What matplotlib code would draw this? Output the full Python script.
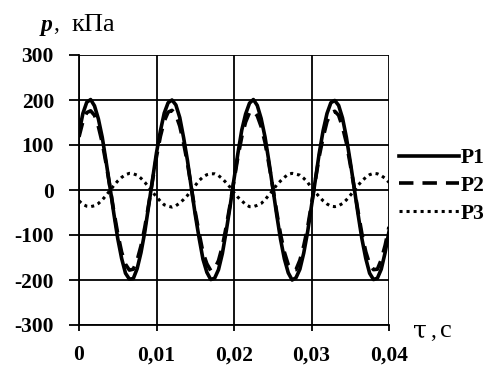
import numpy as np
import matplotlib
matplotlib.use("Agg")
import matplotlib.pyplot as plt

# time samples (s), step 0.0005 from 0 to 0.04
t = [round(i * 0.0005, 4) for i in range(81)]

p1 = [127, 170, 195, 201, 187, 158, 117, 63, 6, -53, -108, -152, -185, -198, -197, -175, -139, -92, -34, 25, 83,
      131, 171, 194, 200, 189, 161, 116, 65, 4, -55, -107, -154, -183, -199, -196, -177, -141, -91, -36, 24, 81,
      133, 169, 193, 201, 188, 159, 118, 64, 5, -54, -109, -153, -184, -200, -195, -176, -140, -93, -35, 23, 82,
      132, 170, 194, 199, 188, 160, 117, 63, 6, -53, -108, -152, -185, -199, -196, -176, -139, -92]

p2 = [118, 152, 172, 176, 166, 141, 105, 58, 6, -48, -97, -138, -165, -178, -176, -156, -124, -82, -31, 22, 74,
      119, 153, 173, 177, 167, 142, 104, 59, 5, -49, -96, -139, -164, -179, -175, -157, -125, -81, -32, 21, 73,
      118, 151, 172, 176, 165, 141, 106, 58, 7, -48, -98, -138, -166, -178, -177, -156, -124, -83, -31, 22, 75,
      117, 152, 171, 175, 166, 140, 105, 57, 6, -47, -97, -137, -165, -177, -176, -155, -123, -82]

p3 = [-24, -32, -36, -37, -35, -30, -22, -12, -1, 10, 20, 28, 34, 37, 36, 33, 26, 17, 6, -5, -15,
      -25, -33, -36, -38, -35, -29, -21, -12, 0, 10, 21, 29, 34, 36, 36, 32, 25, 16, 6, -6, -16,
      -24, -32, -37, -37, -34, -30, -22, -11, -1, 11, 20, 28, 35, 37, 35, 33, 26, 17, 5, -5, -15,
      -24, -31, -36, -37, -35, -30, -22, -12, -1, 10, 20, 28, 34, 37, 36, 32, 26, 17]

series_names = ["P1", "P2", "P3"]
x_ticks = [0, 0.01, 0.02, 0.03, 0.04]
x_tick_labels = ["0", "0,01", "0,02", "0,03", "0,04"]
y_ticks = [-300, -200, -100, 0, 100, 200, 300]

W, H = 498, 365
fig = plt.figure(figsize=(W / 100, H / 100), dpi=100)
plt.rcParams['font.family'] = ['Liberation Serif', 'DejaVu Serif']
plt.rcParams['axes.unicode_minus'] = False

L, R, T, B = 79, 389, 55, 325
ax = fig.add_axes([L / W, 1 - B / H, (R - L) / W, (B - T) / H])

ax.plot(t, p1, color="black", lw=2.6, ls="-", label=series_names[0], zorder=3)
ax.plot(t, p2, color="black", lw=2.6, ls=(0, (4, 2.5)), label=series_names[1], zorder=3)
ax.plot(t, p3, color="black", lw=2.2, ls=(0, (1, 1.3)), label=series_names[2], zorder=3)

ax.set_xlim(0, 0.04)
ax.set_ylim(-300, 300)
ax.set_xticks(x_ticks)
ax.set_xticklabels(x_tick_labels)
ax.set_yticks(y_ticks)
ax.set_yticklabels([str(v) for v in y_ticks])
ax.grid(True, color="black", lw=1.3)
for s in ["top", "right"]:
    ax.spines[s].set_visible(False)
for s in ["left", "bottom"]:
    ax.spines[s].set_linewidth(1.3)
ax.tick_params(axis="both", direction="out", width=1.3, labelsize=15.5, colors="black")
ax.tick_params(axis="y", length=7, pad=11)
ax.tick_params(axis="x", length=4.5, pad=10)
for lab in ax.get_xticklabels() + ax.get_yticklabels():
    lab.set_fontweight("bold")

fig.text(41 / W, 1 - 25 / H, "p", fontsize=17, va="center", ha="left", fontstyle="italic",
         fontweight="bold")
fig.text(53 / W, 1 - 25 / H, ",", fontsize=17, va="center", ha="left")
fig.text(71 / W, 1 - 25 / H, "кПа", fontsize=19, va="center", ha="left")
base = 1 - 337 / H
fig.text(413 / W, base, "τ", fontsize=18, va="baseline", ha="left", family=["DejaVu Serif"])
fig.text(430 / W, base, ",", fontsize=17, va="baseline", ha="left")
fig.text(440 / W, base, "с", fontsize=19, va="baseline", ha="left")

leg = ax.legend(loc="center left", bbox_to_anchor=(399 / W, 1 - 186 / H), bbox_transform=fig.transFigure,
                frameon=False, fontsize=15.5, handlelength=2.8, handletextpad=0.05, labelspacing=0.35,
                borderaxespad=0, borderpad=0)
for txt in leg.get_texts():
    txt.set_fontweight("bold")

fig.savefig("out.png", dpi=100)
